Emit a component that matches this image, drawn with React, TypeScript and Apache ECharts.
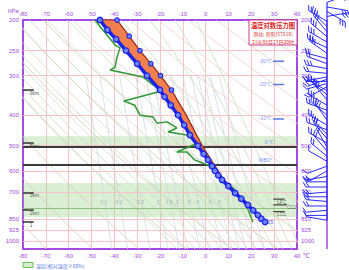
import React, { useEffect, useRef } from "react";
import * as echarts from "echarts";

const L = Math.log;
const PURPLE = "#a349e6";

// axes
const pressureLevels = [200, 250, 300, 400, 500, 600, 700, 850, 925, 1000];
const isobarLines = [250, 300, 400, 500, 600, 700, 850, 925, 1000];
const P_TOP = 200;
const P_BOTTOM = 1060;
const WIND_P_TOP = 173;

// environment temperature
const envP = [200, 215, 230, 250, 275, 300, 333, 350, 372, 400, 430, 462, 500, 530, 554, 580, 600, 620, 641, 670, 705, 735, 769, 800, 828, 850, 871];
const envT = [-46.3, -43.0, -39.2, -34.9, -30.0, -25.7, -20.0, -18.0, -15.3, -12.1, -9.4, -6.9, -3.4, -0.9, 1.0, 2.8, 4.1, 5.5, 7.2, 9.9, 12.9, 15.6, 18.5, 20.8, 22.9, 24.4, 26.0];

// parcel (state) curve, right edge of the positive-energy area
const parcelP = [200, 225, 250, 275, 300, 333, 400, 462, 500, 554, 600, 641, 705, 769];
const parcelT = [-38.8, -33.5, -28.8, -24.0, -19.8, -15.0, -8.5, -4.0, -1.5, 2.3, 5.4, 8.0, 13.3, 19.0];
const parcelDotsUntilP = 333;

// dew point
const dewP = [200, 240, 245, 262, 282, 288, 303, 310, 321, 328, 338, 361, 372, 400, 405, 424, 420, 439, 452, 462, 490, 523, 523, 555, 575, 610, 641, 680, 726, 781, 871];
const dewT = [-48.5, -39.7, -37.5, -38.8, -39.7, -41.9, -27.4, -25.7, -23.1, -20.0, -20.9, -35.8, -31.0, -28.8, -23.1, -21.3, -16.9, -12.6, -16.5, -8.2, -3.4, -12.6, -8.2, -4.7, 1.0, 5.0, 6.3, 12.0, 15.0, 18.1, 20.7];

// background thermodynamic families
const dryThetas = [200, 220, 240, 260, 280, 300, 320, 340, 360, 380, 400, 420, 440, 460, 480, 500];
const moistStartT = [-16, -12, -8, -4, 0, 4, 8, 12, 16, 20, 24, 28, 32, 36, 40];
const mixingRatios = [0.1, 0.2, 0.5, 1, 1.5, 2, 3, 4, 6, 8, 10, 12, 15, 20];
const mixingLabels = ["0.1", "0.2", "0.5", "1", "1.5", "2", "3", "4", "6", "8"];

// moist layers and special levels
const moistBandTop = [466, 655];
const moistBandBottom = [501, 840];
const moistInnerLine = [792];
const levelLineP = [503, 571];
const levelLineText = ["0℃", "WB0°"];
const isoLevelP = [270, 320, 411];
const isoLevelText = ["-30℃", "-20℃", "-10℃"];
const heightP = [333, 490, 705, 798, 871];
const heightText = ["9km", "5km", "3km", "2km", "1"];
const parcelLevelP = [737, 769, 808];
const parcelLevelText = ["LFC", "CCL", "LCL"];

// wind profile
const windP = [176, 182, 188, 195, 202, 210, 218, 226, 235, 245, 255, 265, 275, 285, 295, 303, 308, 313, 318, 325, 335, 345, 358, 372, 386, 400, 415, 430, 445, 460, 475, 490, 505, 520, 540, 560, 580, 600, 625, 650, 675, 700, 725, 750, 775, 800, 830, 860];
const windDir = [70, 100, 120, 80, 300, 315, 320, 310, 300, 295, 305, 285, 290, 280, 275, 260, 250, 270, 255, 240, 300, 310, 320, 300, 290, 310, 325, 300, 290, 315, 320, 300, 330, 320, 310, 300, 250, 240, 260, 270, 270, 265, 270, 275, 270, 265, 270, 280];
const windSpd = [10, 12, 10, 10, 8, 10, 12, 12, 10, 10, 12, 8, 8, 10, 8, 6, 6, 6, 4, 6, 8, 10, 12, 10, 8, 10, 10, 8, 8, 10, 8, 6, 8, 6, 6, 4, 4, 6, 6, 6, 6, 8, 8, 6, 6, 4, 4, 4];

function samplePressures(): number[] {
  const out: number[] = [];
  for (let p = P_BOTTOM; p >= 200; p -= 20) out.push(p);
  return out;
}

function dryCurve(theta: number) {
  return samplePressures().map((p) => [theta * Math.pow(p / 1000, 0.2857) - 273.15, L(p)]);
}

function moistRate(p: number, T: number) {
  const Rd = 287.04, Cp = 1005.7, Lv = 2.501e6, eps = 0.622;
  const tc = T - 273.15;
  const es = 6.112 * Math.exp((17.67 * tc) / (tc + 243.5));
  const rs = (eps * es) / (p - es);
  return (Rd * T + Lv * rs) / (p * (Cp + (Lv * Lv * rs * eps) / (Rd * T * T)));
}

function moistCurve(t0: number) {
  let T = t0 + 273.15;
  let p = 1000;
  while (p < P_BOTTOM) {
    T += moistRate(p, T) * 5;
    p += 5;
  }
  const pts: number[][] = [[T - 273.15, L(p)]];
  let k = 0;
  while (p > 200) {
    T -= moistRate(p, T) * 5;
    p -= 5;
    k++;
    if (k % 4 === 0) pts.push([T - 273.15, L(p)]);
  }
  return pts;
}

function mixingTd(p: number, w: number) {
  const e = (w * p) / (622 + w);
  const a = L(e / 6.112);
  return (243.5 * a) / (17.67 - a);
}

function mixingCurve(w: number) {
  return samplePressures().filter((p) => p >= 300).map((p) => [mixingTd(p, w), L(p)]);
}

const bgLine = (data: number[][], color: string, width = 0.8, z = 1) => ({
  type: "line",
  data,
  symbol: "none",
  silent: true,
  clip: true,
  z,
  lineStyle: { color, width },
});

const segSeries = (t1: number, t2: number, p: number, color: string, width: number) => ({
  type: "line",
  data: [[t1, L(p)], [t2, L(p)]],
  symbol: "none",
  silent: true,
  z: 15,
  lineStyle: { color, width },
});

const textSeries = (ts: number[], ps: number[], texts: string[], color: string, size: number, align: string, dy = 0) => ({
  type: "scatter",
  symbolSize: 1,
  silent: true,
  z: 20,
  itemStyle: { color: "rgba(0,0,0,0)" },
  data: ts.map((t, i) => ({ value: [t, L(ps[i])], label: { formatter: texts[i] } })),
  label: { show: true, position: [0, dy], align, verticalAlign: "middle", color, fontSize: size, fontFamily: "sans-serif" },
});

function buildOption() {
  const series: any[] = [];

  // isobars, moist bands
  series.push({
    type: "line",
    data: [],
    silent: true,
    z: 1,
    markLine: {
      silent: true,
      symbol: "none",
      label: { show: false },
      lineStyle: { color: "#f6c3c9", width: 1, type: "solid" },
      data: isobarLines.map((p) => ({ yAxis: L(p) })),
    },
    markArea: {
      silent: true,
      itemStyle: { color: "rgba(150,210,130,0.35)" },
      data: moistBandTop.map((p, i) => [{ yAxis: L(p) }, { yAxis: L(moistBandBottom[i]) }]),
    },
  });

  dryThetas.forEach((th) => series.push(bgLine(dryCurve(th), th >= 340 ? "#f4caca" : "#d6c8b4")));
  moistStartT.forEach((t) => series.push(bgLine(moistCurve(t), "#c2e2bb")));
  mixingRatios.forEach((w) => series.push(bgLine(mixingCurve(w), "#d2d8e0")));
  series.push(
    textSeries(
      mixingLabels.map((s) => mixingTd(745, parseFloat(s))),
      mixingLabels.map(() => 755),
      mixingLabels,
      "#9aa4b0",
      5,
      "center"
    )
  );

  // black level lines
  series.push({
    type: "line",
    data: [],
    silent: true,
    z: 6,
    markLine: {
      silent: true,
      symbol: "none",
      label: { show: false },
      data: [
        ...moistInnerLine.map((p) => ({ yAxis: L(p), lineStyle: { color: "#8cc47e", width: 1, type: "solid" } })),
        ...levelLineP.map((p) => ({ yAxis: L(p), lineStyle: { color: "#3a3a3a", width: 2, type: "solid" } })),
      ],
    },
  });

  // dew point
  series.push({
    type: "line",
    data: dewP.map((p, i) => [dewT[i], L(p)]),
    symbol: "none",
    z: 8,
    lineStyle: { color: "#2f9a35", width: 1.5 },
  });

  // positive energy area
  series.push({
    type: "custom",
    z: 9,
    silent: true,
    data: [[-20, L(400)]],
    renderItem: (_params: any, api: any) => {
      const pts: number[][] = [];
      parcelP.forEach((p, i) => pts.push(api.coord([parcelT[i], L(p)])));
      for (let i = envP.length - 1; i >= 0; i--) {
        if (envP[i] <= parcelP[parcelP.length - 1]) pts.push(api.coord([envT[i], L(envP[i])]));
      }
      return { type: "polygon", shape: { points: pts }, style: { fill: "#f2804f", stroke: "#b2361c", lineWidth: 1 } };
    },
  });

  // parcel curve (with observation dots in the upper part)
  series.push({
    type: "line",
    data: parcelP.map((p, i) => ({
      value: [parcelT[i], L(p)],
      symbolSize: p <= parcelDotsUntilP ? 4.5 : 0,
    })),
    symbol: "circle",
    showSymbol: true,
    z: 10,
    itemStyle: { color: "#6d86ff", borderColor: "#1c22e8", borderWidth: 1.1 },
    lineStyle: { color: "#a0301a", width: 1.2 },
  });

  // environmental temperature
  series.push({
    type: "line",
    data: envP.map((p, i) => [envT[i], L(p)]),
    symbol: "circle",
    symbolSize: 5.5,
    showSymbol: true,
    z: 11,
    itemStyle: { color: "#6d86ff", borderColor: "#1c22e8", borderWidth: 1.3 },
    lineStyle: { color: "#1c22e8", width: 3.5 },
  });

  // annotations
  isoLevelP.forEach((p) => series.push(segSeries(29.5, 34.3, p, "#5a78f0", 1.5)));
  series.push(textSeries(isoLevelP.map(() => 29.0), isoLevelP, isoLevelText, "#5a78f0", 5.5, "right"));
  series.push(textSeries(levelLineP.map(() => 29.5), levelLineP, levelLineText, "#5a78f0", 5.5, "right", -4));
  heightP.forEach((p) => series.push(segSeries(-80, -75.3, p, "#333333", 1.5)));
  series.push(textSeries(heightP.map(() => -76.8), heightP, heightText, "#333333", 5, "left", 3));
  parcelLevelP.forEach((p, i) => series.push(segSeries(29.6, i === 1 ? 35.6 : 34.6, p, "#444444", 1.3)));
  series.push(textSeries([31.5, 35.8, 31.5], parcelLevelP, parcelLevelText, "#444444", 5, "left", 3));
  series.push(textSeries([27.3], [877], ["25"], "#3040f0", 5.5, "left"));

  // wind column
  series.push({
    type: "line",
    xAxisIndex: 2,
    yAxisIndex: 2,
    data: [[0.5, L(200)], [0.5, L(P_BOTTOM)]],
    symbol: "none",
    silent: true,
    z: 3,
    lineStyle: { color: PURPLE, width: 1.5 },
  });
  series.push({
    type: "line",
    xAxisIndex: 2,
    yAxisIndex: 2,
    data: [[0.5, L(windP[0])], [0.5, L(windP[windP.length - 1])]],
    symbol: "none",
    silent: true,
    z: 4,
    lineStyle: { color: "#2a2aff", width: 1.2 },
  });
  series.push({
    type: "custom",
    xAxisIndex: 2,
    yAxisIndex: 2,
    silent: true,
    clip: false,
    z: 5,
    data: windP.map((p, i) => [0.5, L(p), windDir[i], windSpd[i]]),
    renderItem: (_params: any, api: any) => {
      const base = api.coord([api.value(0), api.value(1)]);
      const rad = (api.value(2) * Math.PI) / 180;
      const ux = Math.sin(rad);
      const uy = -Math.cos(rad);
      const len = 21;
      const tip = [base[0] + ux * len, base[1] + uy * len];
      const children: any[] = [
        { type: "line", shape: { x1: base[0], y1: base[1], x2: tip[0], y2: tip[1] }, style: { stroke: "#2a2aff", lineWidth: 1 } },
      ];
      const n = Math.min(3, Math.round(api.value(3) / 4));
      const fx = -uy * 0.8 + ux * 0.5;
      const fy = ux * 0.8 + uy * 0.5;
      for (let k = 0; k < n; k++) {
        const sx = tip[0] - ux * k * 3;
        const sy = tip[1] - uy * k * 3;
        children.push({ type: "line", shape: { x1: sx, y1: sy, x2: sx + fx * 6, y2: sy + fy * 6 }, style: { stroke: "#2a2aff", lineWidth: 1 } });
      }
      return { type: "group", children };
    },
  });

  const xCommon = {
    type: "value",
    min: -80,
    max: 40,
    interval: 10,
    gridIndex: 0,
    axisLine: { show: true, onZero: false, lineStyle: { color: PURPLE, width: 2 } },
    axisTick: { show: false },
    axisLabel: { color: PURPLE, fontSize: 6, fontFamily: "sans-serif" },
  };
  const yCommon = {
    type: "value",
    min: L(P_TOP),
    max: L(P_BOTTOM),
    inverse: true,
    gridIndex: 0,
    axisLine: { show: true, onZero: false, lineStyle: { color: PURPLE, width: 2 } },
    axisTick: { show: false },
    splitLine: { show: false },
    axisLabel: {
      color: PURPLE,
      fontSize: 6,
      fontFamily: "sans-serif",
      margin: 4,
      customValues: pressureLevels.map((p) => L(p)),
      formatter: (v: number) => String(Math.round(Math.exp(v))),
    },
  };

  return {
    animation: false,
    backgroundColor: "#ffffff",
    grid: [
      { left: 23, top: 20, width: 274, height: 229, outerBoundsMode: "none", containLabel: false },
      { left: 305, top: 0, width: 44, height: 249, outerBoundsMode: "none", containLabel: false },
    ],
    xAxis: [
      { ...xCommon, position: "bottom", axisLabel: { ...xCommon.axisLabel, margin: 4 }, splitLine: { show: true, lineStyle: { color: "#f6c3c9", width: 1 } } },
      { ...xCommon, position: "top", axisLabel: { ...xCommon.axisLabel, margin: 3 }, splitLine: { show: false } },
      { type: "value", gridIndex: 1, min: 0, max: 1, show: false },
    ],
    yAxis: [
      { ...yCommon, position: "left" },
      { ...yCommon, position: "right" },
      { type: "value", gridIndex: 1, min: L(WIND_P_TOP), max: L(P_BOTTOM), inverse: true, show: false },
    ],
    series,
    graphic: [
      { type: "text", left: 8, top: 8, style: { text: "hPa", fill: PURPLE, fontSize: 6, fontFamily: "sans-serif" }, z: 50 },
      { type: "text", left: 303, top: 252, style: { text: "℃", fill: PURPLE, fontSize: 7, fontFamily: "sans-serif" }, z: 50 },
      { type: "rect", shape: { x: 249, y: 20, width: 48, height: 25 }, style: { fill: "#ffffff", stroke: "#c8408a", lineWidth: 1 }, z: 40 },
      { type: "text", x: 273, y: 25, style: { text: "温度对数压力图", fill: "#e01818", fontSize: 6.3, fontWeight: "bold", fontFamily: "Noto Sans CJK SC", align: "center", verticalAlign: "middle" }, z: 50 },
      { type: "text", x: 273, y: 33.5, style: { text: "测站: 贵阳(57816)", fill: "#e03030", fontSize: 5, fontFamily: "Noto Sans CJK SC", align: "center", verticalAlign: "middle" }, z: 50 },
      { type: "text", x: 273, y: 41, style: { text: "21年08月23日20时", fill: "#e03030", fontSize: 5, fontFamily: "Noto Sans CJK SC", align: "center", verticalAlign: "middle" }, z: 50 },
      { type: "rect", shape: { x: 23, y: 262.5, width: 10, height: 5 }, style: { fill: "#d6efcc", stroke: "#6cbf5c", lineWidth: 1 }, z: 50 },
      { type: "text", x: 36, y: 265, style: { text: "湿层(相对湿度≥80%)", fill: "#5a7ae0", fontSize: 5, fontFamily: "Noto Sans CJK SC", verticalAlign: "middle" }, z: 50 },
    ],
  };
}

export default function App() {
  const ref = useRef<HTMLDivElement>(null);
  useEffect(() => {
    if (!ref.current) return;
    const chart = echarts.init(ref.current, null, { renderer: "svg" });
    chart.setOption(buildOption() as any);
    return () => chart.dispose();
  }, []);
  return <div ref={ref} style={{ position: "fixed", left: 0, top: 0, width: 349, height: 270, background: "#fff" }} />;
}
